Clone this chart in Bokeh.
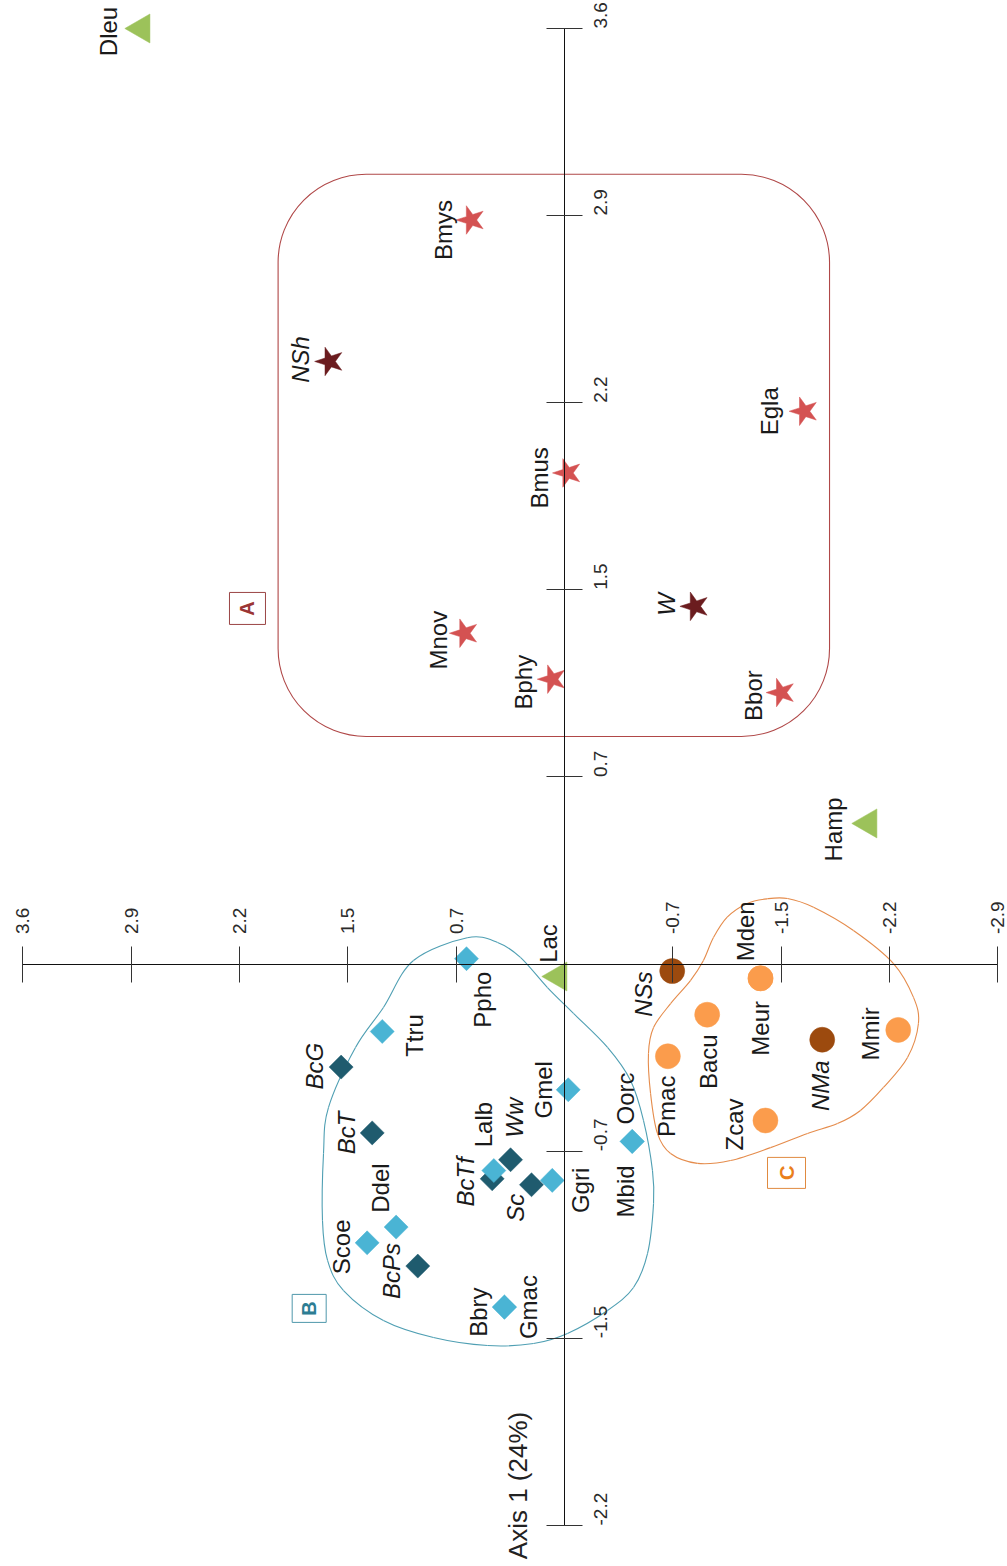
from math import pi
from bokeh.plotting import figure
from bokeh.models import (ColumnDataSource, Range1d, LinearAxis, FixedTicker,
                          BoxAnnotation, Label)
from bokeh.core.properties import value, field
from bokeh.embed import file_html
from bokeh.resources import INLINE

# ---------------- data (chart rotated 90 deg: Axis 2 horizontal, Axis 1 vertical) ----
TICK_STEP = 0.725
X_TICK_MULT = [5, 4, 3, 2, 1, -1, -2, -3, -4]
X_TICK_LABELS = ["3.6", "2.9", "2.2", "1.5", "0.7", "-0.7", "-1.5", "-2.2", "-2.9"]
Y_TICK_MULT = [5, 4, 3, 2, 1, -1, -2, -3]
Y_TICK_LABELS = ["3.6", "2.9", "2.2", "1.5", "0.7", "-0.7", "-1.5", "-2.2"]
AXIS_TITLE = "Axis 1 (24%)"

# group A (stars)
A_names = ["Bmys", "Egla", "Bmus", "Mnov", "Bphy", "Bbor"]
A_ax2 = [0.626, -1.604, -0.020, 0.670, 0.082, -1.450]
A_ax1 = [2.883, 2.142, 1.903, 1.282, 1.104, 1.052]
A_fos_names = ["NSh", "W"]
A_fos_ax2 = [1.572, -0.873]
A_fos_ax1 = [2.335, 1.386]

# outgroups (triangles)
T_names = ["Dleu", "Hamp", "Lac"]
T_ax2 = [2.831, -2.035, 0.040]
T_ax1 = [3.625, 0.545, -0.048]

# group B (diamonds)
B_names = ["Ppho", "Ttru", "Gmel", "Oorc", "Mbid", "Lalb", "Ggri", "Ddel", "Scoe", "Bbry", "Gmac"]
B_ax2 = [0.656, 1.220, -0.025, -0.453, -0.453, 0.473, 0.082, 1.127, 1.321, 0.402, 0.402]
B_ax1 = [0.021, -0.261, -0.487, -0.687, -0.687, -0.800, -0.838, -1.019, -1.080, -1.329, -1.329]
B_fos_names = ["BcG", "BcT", "Ww", "BcTf", "Sc", "BcPs"]
B_fos_ax2 = [1.495, 1.287, 0.361, 0.484, 0.221, 0.982]
B_fos_ax1 = [-0.399, -0.654, -0.758, -0.832, -0.855, -1.170]

# group C (circles)
C_names = ["Mden", "Meur", "Bacu", "Pmac", "Mmir", "Zcav"]
C_ax2 = [-1.312, -1.312, -0.955, -0.692, -2.234, -1.345]
C_ax1 = [-0.055, -0.055, -0.196, -0.357, -0.255, -0.606]
C_fos_names = ["NSs", "NMa"]
C_fos_ax2 = [-0.721, -1.725]
C_fos_ax1 = [-0.027, -0.293]

# group tags
TAG_letters = ["A", "B", "C"]
TAG_ax2 = [2.122, 1.709, -1.486]
TAG_ax1 = [1.378, -1.334, -0.809]

# group outlines
BOX_A = dict(left=1.917, right=-1.774, top=3.060, bottom=0.882)
HULL_B_ax2 = [0.651, 1.011, 1.212, 1.399, 1.580, 1.613, 1.620, 1.586, 1.479, 1.212, 0.877, 0.515,
              0.207, -0.020, -0.288, -0.462, -0.556, -0.596, -0.589, -0.529, -0.442, -0.288,
              -0.060, 0.114, 0.295, 0.448]
HULL_B_ax1 = [0.102, 0.014, -0.168, -0.323, -0.556, -0.734, -0.993, -1.148, -1.265, -1.381, -1.447,
              -1.478, -1.470, -1.431, -1.342, -1.253, -1.121, -0.928, -0.800, -0.606, -0.451,
              -0.323, -0.191, -0.091, 0.026, 0.084]
HULL_C_ax2 = [-1.357, -1.223, -1.089, -0.997, -0.930, -0.843, -0.710, -0.596, -0.562, -0.576, -0.622,
              -0.710, -0.890, -1.111, -1.379, -1.627, -1.827, -1.981, -2.135, -2.296, -2.369, -2.336,
              -2.202, -1.934, -1.667, -1.493]
HULL_C_ax1 = [0.253, 0.235, 0.182, 0.103, 0.014, -0.064, -0.153, -0.246, -0.346, -0.501, -0.656,
              -0.734, -0.772, -0.761, -0.711, -0.656, -0.618, -0.567, -0.478, -0.362, -0.230, -0.129,
              0.002, 0.130, 0.220, 0.254]

# ---------------- styling ----------------
LABEL_OFFSETS = {
    "Bmys": (-27, 10), "NSh": (-29, -2), "Egla": (-35, 0), "Bmus": (-28, 5), "W": (-28, -2),
    "Mnov": (-26, 7), "Bphy": (-29, 3), "Bbor": (-28, 3),
    "Dleu": (-33, 3), "Hamp": (-35, 6), "Lac": (-10, -33),
    "Ppho": (16, 41), "Ttru": (32, 4), "BcG": (-27, -1), "BcT": (-26, 0), "Gmel": (-25, 0),
    "Oorc": (-7, -43), "Mbid": (-7, 50), "Lalb": (-10, -46), "Ww": (4, -42), "BcTf": (-27, 3),
    "Sc": (-16, 23), "Ggri": (28, 10), "Ddel": (-16, -39), "Scoe": (-26, 4), "BcPs": (-26, 5),
    "Bbry": (-26, 5), "Gmac": (24, 0),
    "NSs": (-29, 23), "Mden": (-15, -47), "Meur": (0, 50), "Bacu": (1, 47), "Pmac": (-1, 50),
    "NMa": (-2, 46), "Mmir": (-28, 4), "Zcav": (-31, 4),
}
FONT = "Liberation Sans"

# pixel geometry: x = 564 - 149.4*ax2, y = 963.6 - 258.1*ax1
W, H = 1007, 1562
X0, SX = 564.0, 149.4
Y0, SY = 963.6, 258.1

p = figure(width=W, height=H, output_backend="svg", toolbar_location=None,
           x_range=Range1d(X0 / SX, (X0 - W) / SX),
           y_range=Range1d((Y0 - H) / SY, Y0 / SY),
           x_axis_location=None, y_axis_location=None, min_border=0,
           background_fill_color="white", border_fill_color="white")
p.outline_line_color = None
p.grid.visible = False

# axes through the origin
xt = [round(k * TICK_STEP, 6) for k in X_TICK_MULT]
yt = [round(k * TICK_STEP, 6) for k in Y_TICK_MULT]
xaxis = LinearAxis(fixed_location=0, ticker=FixedTicker(ticks=xt), bounds=(min(xt), max(xt)),
                   major_label_overrides={t: l for t, l in zip(xt, X_TICK_LABELS)})
yaxis = LinearAxis(fixed_location=0, ticker=FixedTicker(ticks=yt), bounds=(min(yt), max(yt)),
                   major_label_overrides={t: l for t, l in zip(yt, Y_TICK_LABELS)})
for ax in (xaxis, yaxis):
    ax.major_tick_in = 18
    ax.major_tick_out = 18
    ax.minor_tick_line_color = None
    ax.axis_line_color = "#111111"
    ax.major_tick_line_color = "#333333"
    ax.major_label_orientation = pi / 2
    ax.major_label_text_font = FONT
    ax.major_label_text_font_size = "19px"
    ax.major_label_text_color = "#2a2a2a"
xaxis.major_label_standoff = 12
yaxis.major_label_standoff = 18
p.add_layout(xaxis, "above")
p.add_layout(yaxis, "right")

# outlines
box = BoxAnnotation(**BOX_A, fill_color=None, line_color="#b04848", line_alpha=1.0,
                    line_width=1.1, border_radius=88, level="underlay")
p.add_layout(box)


def closed_bezier(xs, ys):
    n = len(xs)
    out = dict(x0=[], y0=[], x1=[], y1=[], cx0=[], cy0=[], cx1=[], cy1=[])
    for i in range(n):
        p0 = (xs[i - 1], ys[i - 1])
        p1 = (xs[i], ys[i])
        p2 = (xs[(i + 1) % n], ys[(i + 1) % n])
        p3 = (xs[(i + 2) % n], ys[(i + 2) % n])
        out["x0"].append(p1[0]); out["y0"].append(p1[1])
        out["x1"].append(p2[0]); out["y1"].append(p2[1])
        out["cx0"].append(p1[0] + (p2[0] - p0[0]) / 6); out["cy0"].append(p1[1] + (p2[1] - p0[1]) / 6)
        out["cx1"].append(p2[0] - (p3[0] - p1[0]) / 6); out["cy1"].append(p2[1] - (p3[1] - p1[1]) / 6)
    return ColumnDataSource(out)


p.bezier(x0="x0", y0="y0", x1="x1", y1="y1", cx0="cx0", cy0="cy0", cx1="cx1", cy1="cy1",
         source=closed_bezier(HULL_B_ax2, HULL_B_ax1), line_color="#4f9fb3", line_width=1.1)
p.bezier(x0="x0", y0="y0", x1="x1", y1="y1", cx0="cx0", cy0="cy0", cx1="cx1", cy1="cy1",
         source=closed_bezier(HULL_C_ax2, HULL_C_ax1), line_color="#e58c4c", line_width=1.1)


def src(names, xs, ys, italic=False):
    return ColumnDataSource(dict(
        x=xs, y=ys, name=names,
        dx=[LABEL_OFFSETS[n][0] for n in names],
        dy=[LABEL_OFFSETS[n][1] for n in names],
        style=["italic" if italic else "normal"] * len(names)))


groups = [
    (src(A_names, A_ax2, A_ax1), "star", "#d45252", 30, pi / 2),
    (src(A_fos_names, A_fos_ax2, A_fos_ax1, True), "star", "#6b1c1f", 30, pi / 2),
    (src(T_names, T_ax2, T_ax1), "triangle", "#9cc25a", 29, pi / 2),
    (src(B_fos_names, B_fos_ax2, B_fos_ax1, True), "square", "#1f5b6e", 17, pi / 4),
    (src(B_names, B_ax2, B_ax1), "square", "#4ab4d4", 17, pi / 4),
    (src(C_fos_names, C_fos_ax2, C_fos_ax1, True), "circle", "#9c4a0e", 25, 0),
    (src(C_names, C_ax2, C_ax1), "circle", "#fb9c4c", 25, 0),
]
for s, marker, color, size, ang in groups:
    p.scatter(x="x", y="y", source=s, marker=marker, size=size, angle=ang,
              fill_color=color, line_color=color, line_width=0.5)
for s, *_ in groups:
    p.text(x="x", y="y", text="name", source=s, x_offset="dx", y_offset="dy", angle=pi / 2,
           text_align="center", text_baseline="middle", text_font=value(FONT),
           text_font_size="24px", text_font_style=field("style"), text_color="#1a1a1a")

# group tags
tag_src = ColumnDataSource(dict(x=TAG_ax2, y=TAG_ax1, t=TAG_letters,
                                lc=["#9b4545", "#4f98ab", "#e08a40"],
                                tc=["#9b3535", "#2d7d93", "#ea7f1c"],
                                w=[36, 34, 38], h=[32, 28, 31]))
p.rect(x="x", y="y", width="w", height="h", width_units="screen", height_units="screen",
       source=tag_src, fill_color=None, line_color="lc", line_width=1)
p.text(x="x", y="y", text="t", source=tag_src, angle=pi / 2, text_align="center",
       text_baseline="middle", text_font=value(FONT), text_font_size="20px",
       text_font_style="bold", text_color="tc")

p.add_layout(Label(x=0, y=-2.02, x_offset=-47, text=AXIS_TITLE, angle=pi / 2,
                   text_align="center", text_baseline="middle", text_font=FONT,
                   text_font_size="26px", text_color="#222222"))

open("out.html", "w").write(file_html(p, INLINE))
